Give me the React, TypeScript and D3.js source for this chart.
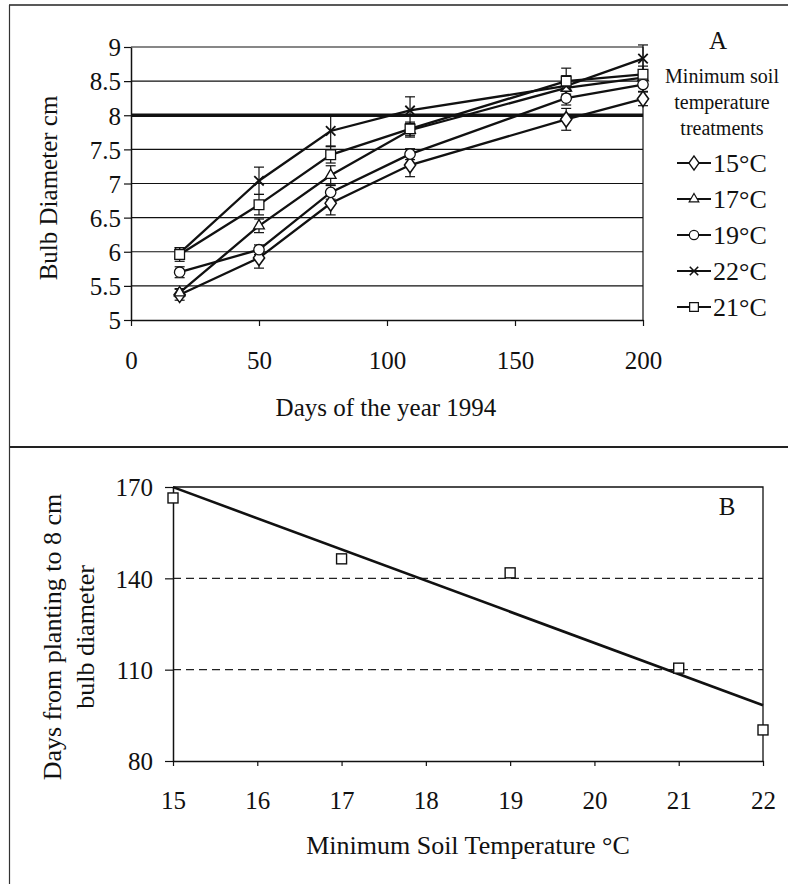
import React, { useEffect, useRef } from 'react';
import * as d3 from 'd3';

// Panel A: bulb diameter over the season
const dayOfYear = [19, 50, 78, 109, 170, 200];
const treatments = ['15°C', '17°C', '19°C', '22°C', '21°C'];
const diam15 = [5.37, 5.91, 6.71, 7.27, 7.94, 8.24];
const diam17 = [5.4, 6.38, 7.12, 7.78, 8.4, 8.55];
const diam19 = [5.7, 6.03, 6.87, 7.43, 8.25, 8.45];
const diam22 = [5.98, 7.04, 7.77, 8.07, 8.43, 8.83];
const diam21 = [5.96, 6.69, 7.42, 7.8, 8.5, 8.6];
const err15 = [0.08, 0.15, 0.17, 0.17, 0.16, 0.1];
const err17 = [0.06, 0.1, 0.14, 0.1, 0.15, 0.1];
const err19 = [0.08, 0.07, 0.1, 0.08, 0.1, 0.1];
const err22 = [0.08, 0.2, 0.22, 0.2, 0.15, 0.2];
const err21 = [0.1, 0.15, 0.12, 0.1, 0.19, 0.12];
const dayTicks = [0, 50, 100, 150, 200];
const diamTicks = [5, 5.5, 6, 6.5, 7, 7.5, 8, 8.5, 9];
const targetDiam = 8;

// Panel B: days to reach 8 cm vs minimum soil temperature
const soilTemps = [15, 17, 19, 21, 22];
const daysTo8cm = [166.4, 146.4, 141.8, 110.5, 90.2];
const tempTicks = [15, 16, 17, 18, 19, 20, 21, 22];
const daysTicks = [80, 110, 140, 170];

const serif = '"Liberation Serif", "Times New Roman", Times, serif';

const App = () => {
  const ref = useRef<SVGSVGElement>(null);

  useEffect(() => {
    const svg = d3.select(ref.current);
    svg.selectAll('*').remove();

    const styleAxis = ax => {
      ax.attr('font-family', null).attr('font-size', null);
      ax.select('.domain').attr('stroke', '#111').attr('stroke-width', 1.5);
      ax.selectAll('.tick line').attr('stroke', '#111').attr('stroke-width', 1.2);
      ax.selectAll('text')
        .style('font-family', serif)
        .style('font-size', '25px')
        .attr('fill', '#111');
    };

    // panel frame
    svg.append('line').attr('x1', 9).attr('x2', 788).attr('y1', 5).attr('y2', 5)
      .attr('stroke', '#222').attr('stroke-width', 1.5);
    svg.append('line').attr('x1', 9).attr('x2', 788).attr('y1', 447).attr('y2', 447)
      .attr('stroke', '#222').attr('stroke-width', 2);
    svg.append('line').attr('x1', 9.5).attr('x2', 9.5).attr('y1', 5).attr('y2', 884)
      .attr('stroke', '#333').attr('stroke-width', 1.2);

    // ---------- Panel A ----------
    const xA = d3.scaleLinear().domain([0, 200]).range([131, 643]);
    const yA = d3.scaleLinear().domain([5, 9]).range([320, 47]);
    const gA = svg.append('g');

    // grid lines
    gA.selectAll('.gridA')
      .data(diamTicks.slice(1))
      .enter()
      .append('line')
      .attr('x1', xA(0)).attr('x2', xA(200))
      .attr('y1', d => yA(d)).attr('y2', d => yA(d))
      .attr('stroke', '#111')
      .attr('stroke-width', d => (d === targetDiam ? 3.5 : 1.2));
    gA.append('line')
      .attr('x1', xA(200)).attr('x2', xA(200)).attr('y1', yA(9)).attr('y2', yA(5))
      .attr('stroke', '#111').attr('stroke-width', 1.2);

    const axisLeftA = gA.append('g')
      .attr('transform', `translate(${xA(0)},0)`)
      .call(d3.axisLeft(yA).tickValues(diamTicks).tickSize(7).tickSizeOuter(0).tickFormat(d3.format('')));
    const axisBottomA = gA.append('g')
      .attr('transform', `translate(0,${yA(5)})`)
      .call(d3.axisBottom(xA).tickValues(dayTicks).tickSize(6).tickSizeOuter(0).tickFormat(d3.format('d')));
    styleAxis(axisLeftA);
    styleAxis(axisBottomA);
    axisLeftA.selectAll('text').attr('x', -10).attr('dy', '0.35em');
    axisBottomA.selectAll('text').attr('y', 40).attr('dy', '0.35em');

    gA.append('text')
      .attr('transform', `translate(48,${188}) rotate(-90)`)
      .attr('text-anchor', 'middle').attr('dy', '0.35em')
      .style('font-family', serif).style('font-size', '25px').attr('fill', '#111')
      .text('Bulb Diameter cm');
    gA.append('text')
      .attr('x', 386).attr('y', 407).attr('dy', '0.35em')
      .attr('text-anchor', 'middle')
      .style('font-family', serif).style('font-size', '25px').attr('fill', '#111')
      .text('Days of the year 1994');

    const values = [diam15, diam17, diam19, diam22, diam21];
    const errors = [err15, err17, err19, err22, err21];
    const symbols = [d3.symbolDiamond, d3.symbolTriangle, d3.symbolCircle, d3.symbolTimes, d3.symbolSquare];
    const sizes = [70, 50, 85, 60, 95];

    const line = d3.line<number>()
      .x((d, i) => xA(dayOfYear[i]))
      .y(d => yA(d));

    values.forEach(vals => {
      gA.append('path')
        .datum(vals)
        .attr('fill', 'none')
        .attr('stroke', '#111')
        .attr('stroke-width', 2.3)
        .attr('d', line);
    });

    // error bars
    values.forEach((vals, s) => {
      const g = gA.append('g').attr('stroke', '#111').attr('stroke-width', 1.2);
      vals.forEach((v, i) => {
        const x = xA(dayOfYear[i]);
        const e = errors[s][i];
        g.append('line').attr('x1', x).attr('x2', x).attr('y1', yA(v - e)).attr('y2', yA(v + e));
        g.append('line').attr('x1', x - 5).attr('x2', x + 5).attr('y1', yA(v - e)).attr('y2', yA(v - e));
        g.append('line').attr('x1', x - 5).attr('x2', x + 5).attr('y1', yA(v + e)).attr('y2', yA(v + e));
      });
    });

    // markers
    values.forEach((vals, s) => {
      gA.selectAll(`.mk${s}`)
        .data(vals)
        .enter()
        .append('path')
        .attr('transform', (d, i) => `translate(${xA(dayOfYear[i])},${yA(d)})${s === 0 ? ' scale(1.25,1)' : ''}`)
        .attr('d', d3.symbol().type(symbols[s]).size(sizes[s]))
        .attr('fill', s === 3 ? 'none' : '#fff')
        .attr('stroke', '#111')
        .attr('stroke-width', s === 3 ? 1.8 : 1.3);
    });

    // legend
    gA.append('text').attr('x', 718).attr('y', 40).attr('dy', '0.35em')
      .attr('text-anchor', 'middle').style('font-family', serif).style('font-size', '25px').attr('fill', '#111')
      .text('A');
    ['Minimum soil', 'temperature', 'treatments'].forEach((t, i) => {
      gA.append('text').attr('x', 722).attr('y', 76 + i * 26).attr('dy', '0.35em')
        .attr('text-anchor', 'middle').style('font-family', serif).style('font-size', '20px').attr('fill', '#111')
        .text(t);
    });
    treatments.forEach((name, s) => {
      const y = 163 + s * 36;
      const lg = gA.append('g');
      lg.append('line').attr('x1', 677).attr('x2', 711).attr('y1', y).attr('y2', y)
        .attr('stroke', '#111').attr('stroke-width', 2.2);
      lg.append('path')
        .attr('transform', `translate(694,${y})${s === 0 ? ' scale(1.25,1)' : ''}`)
        .attr('d', d3.symbol().type(symbols[s]).size(sizes[s] * 0.8))
        .attr('fill', s === 3 ? 'none' : '#fff')
        .attr('stroke', '#111')
        .attr('stroke-width', s === 3 ? 1.6 : 1.2);
      lg.append('text').attr('x', 713).attr('y', y).attr('dy', '0.35em')
        .style('font-family', serif).style('font-size', '26px').attr('fill', '#111')
        .text(name);
    });

    // ---------- Panel B ----------
    const xB = d3.scaleLinear().domain([15, 22]).range([173, 763]);
    const yB = d3.scaleLinear().domain([80, 170]).range([761, 487]);
    const gB = svg.append('g');

    gB.selectAll('.gridB')
      .data([110, 140])
      .enter()
      .append('line')
      .attr('x1', xB(15)).attr('x2', xB(22))
      .attr('y1', d => yB(d)).attr('y2', d => yB(d))
      .attr('stroke', '#222').attr('stroke-width', 1.2)
      .attr('stroke-dasharray', '8,5');
    gB.append('path')
      .attr('d', `M${xB(15)},${yB(170)}H${xB(22)}V${yB(80)}`)
      .attr('fill', 'none').attr('stroke', '#111').attr('stroke-width', 1.3);

    const axisLeftB = gB.append('g')
      .attr('transform', `translate(${xB(15)},0)`)
      .call(d3.axisLeft(yB).tickValues(daysTicks).tickSize(8).tickSizeOuter(0).tickFormat(d3.format('d')));
    const axisBottomB = gB.append('g')
      .attr('transform', `translate(0,${yB(80)})`)
      .call(d3.axisBottom(xB).tickValues(tempTicks).tickSize(5).tickSizeOuter(0).tickFormat(d3.format('d')));
    styleAxis(axisLeftB);
    styleAxis(axisBottomB);
    axisLeftB.selectAll('text').attr('x', -20).attr('dy', '0.35em');
    axisBottomB.selectAll('text').attr('y', 39).attr('dy', '0.35em');

    ['Days from planting to 8 cm', 'bulb diameter'].forEach((t, i) => {
      gB.append('text')
        .attr('transform', `translate(${52 + i * 33},637) rotate(-90)`)
        .attr('text-anchor', 'middle').attr('dy', '0.35em')
        .style('font-family', serif).style('font-size', '26px').attr('fill', '#111')
        .text(t);
    });
    gB.append('text')
      .attr('x', 468).attr('y', 845).attr('dy', '0.35em')
      .attr('text-anchor', 'middle')
      .style('font-family', serif).style('font-size', '26px').attr('fill', '#111')
      .text('Minimum Soil Temperature °C');
    gB.append('text')
      .attr('x', 727).attr('y', 506).attr('dy', '0.35em')
      .attr('text-anchor', 'middle')
      .style('font-family', serif).style('font-size', '25px').attr('fill', '#111')
      .text('B');

    // least-squares trend line
    const mx = d3.mean(soilTemps) as number;
    const my = d3.mean(daysTo8cm) as number;
    const slope =
      d3.sum(soilTemps, (t, i) => (t - mx) * (daysTo8cm[i] - my)) /
      d3.sum(soilTemps, t => (t - mx) * (t - mx));
    const fit = (t: number) => my + slope * (t - mx);
    gB.append('line')
      .attr('x1', xB(15)).attr('y1', yB(fit(15)))
      .attr('x2', xB(22)).attr('y2', yB(fit(22)))
      .attr('stroke', '#111').attr('stroke-width', 2.6);

    gB.selectAll('.ptB')
      .data(daysTo8cm)
      .enter()
      .append('rect')
      .attr('x', (d, i) => xB(soilTemps[i]) - 5)
      .attr('y', d => yB(d) - 5)
      .attr('width', 10).attr('height', 10)
      .attr('fill', '#fff').attr('stroke', '#111').attr('stroke-width', 1.4);
  }, []);

  return (
    <svg
      ref={ref}
      width={788}
      height={884}
      style={{ position: 'absolute', left: 0, top: 0, background: '#fff' }}
    />
  );
};

export default App;
